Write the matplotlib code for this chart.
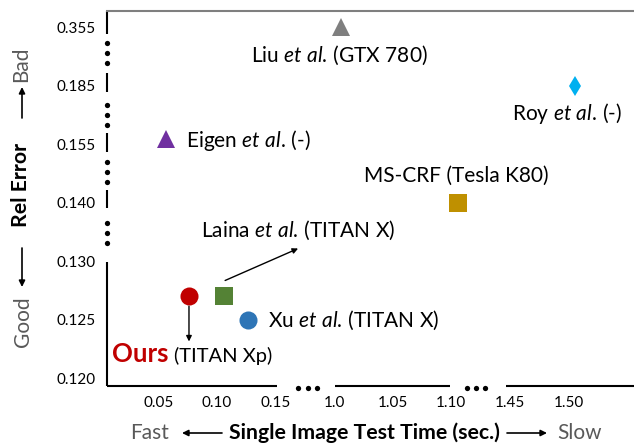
import numpy as np
import matplotlib
matplotlib.use('Agg')
import matplotlib.pyplot as plt
from matplotlib.patches import FancyArrowPatch
from matplotlib.transforms import ScaledTranslation
from matplotlib.text import OffsetFrom

plt.rcParams['font.family'] = ['Lato', 'DejaVu Sans']
plt.rcParams['mathtext.fontset'] = 'custom'
plt.rcParams['mathtext.rm'] = 'Lato'
plt.rcParams['mathtext.it'] = 'Lato:italic'
plt.rcParams['mathtext.bf'] = 'Lato:bold'

# broken axes: every tick is one equal step on screen
x_ticks = [0.05, 0.10, 0.15, 1.0, 1.05, 1.10, 1.45, 1.50]
x_ticklabels = ['0.05', '0.10', '0.15', '1.0', '1.05', '1.10', '1.45', '1.50']
y_ticks = [0.120, 0.125, 0.130, 0.140, 0.155, 0.185, 0.355]
y_ticklabels = ['0.120', '0.125', '0.130', '0.140', '0.155', '0.185', '0.355']

methods = ['Liu', 'Roy', 'Eigen', 'MS-CRF', 'Laina', 'Ours', 'Xu']
times = [1.0, 1.50, 0.05, 1.10, 0.10, 0.07, 0.12]
errors = [0.355, 0.185, 0.158, 0.140, 0.127, 0.127, 0.125]
labels = [r'Liu $\mathit{et\ al.}$' + '\u2009(GTX 780)',
          r'Roy $\mathit{et\ al.}$' + '\u2009(-)',
          r'Eigen $\mathit{et\ al.}$' + '\u2009(-)',
          'MS-CRF (Tesla K80)',
          r'Laina $\mathit{et\ al.}$' + '\u2009(TITAN X)',
          '(TITAN Xp)',
          r'Xu $\mathit{et\ al.}$' + '\u2009(TITAN X)']
colors = ['#7F7F7F', '#00B0F0', '#7030A0', '#BF9000', '#548235', '#C00000', '#2E75B6']
markers = ['^', 'd', '^', 's', 's', 'o', 'o']
msizes = [13, 10.5, 12.5, 13, 13, 13, 13]

# index knots (extra ones at the ends for the axis margins)
xk = np.array([0.0] + x_ticks + [1.55])
xi = np.arange(-1, len(x_ticks) + 1)
yk = np.array([0.115] + y_ticks + [0.525])
yi = np.arange(-1, len(y_ticks) + 1)


def xf(v):
    return np.interp(v, xk, xi)


def xinv(i):
    return np.interp(i, xi, xk)


def yf(v):
    return np.interp(v, yk, yi)


def yinv(i):
    return np.interp(i, yi, yk)


fig = plt.figure(figsize=(6.34, 4.44), dpi=100)
ax = fig.add_axes([107 / 634, 1 - 386 / 444, 1 - 107 / 634, (386 - 11) / 444])
ax.set_xscale('function', functions=(xf, xinv))
ax.set_yscale('function', functions=(yf, yinv))
ax.set_xlim(xinv(-1.0), xinv(8.0))
ax.set_ylim(yinv(-0.13), yinv(6.28))

ax.set_xticks(x_ticks, x_ticklabels)
ax.set_yticks(y_ticks, y_ticklabels)
ax.minorticks_off()
ax.tick_params(length=0, labelsize=11, colors='black')
ax.tick_params(axis='x', pad=7)
ax.tick_params(axis='y', pad=8)
for lbl in ax.get_xticklabels():
    lbl.set_transform(lbl.get_transform() + ScaledTranslation(-0.07, 0, fig.dpi_scale_trans))

for s in ['left', 'bottom', 'right']:
    ax.spines[s].set_visible(False)
ax.spines['top'].set_color('#7F7F7F')
ax.spines['top'].set_linewidth(1.5)

# broken left spine
ytr = ax.get_yaxis_transform()
for lo, hi in [(-0.13, 1.99), (2.91, 3.22), (3.87, 4.20), (4.90, 5.22), (5.89, 6.28)]:
    ax.plot([0, 0], [yinv(lo), yinv(hi)], color='black', lw=1.5, transform=ytr,
            clip_on=False, solid_capstyle='butt')
for mid in [2.49, 3.53, 4.50, 5.56]:
    d = np.array([-0.17, 0, 0.17]) + mid
    ax.plot(np.zeros(3), yinv(d), 'o', color='black', ms=3.8, mew=0, transform=ytr, clip_on=False)

# broken bottom spine
xtr = ax.get_xaxis_transform()
for lo, hi in [(-1, 1.91), (2.90, 4.85), (5.82, 8.0)]:
    ax.plot([xinv(lo), xinv(hi)], [0, 0], color='black', lw=1.5, transform=xtr,
            clip_on=False, solid_capstyle='butt')
for mid in [2.43, 5.30]:
    d = np.array([-0.16, 0, 0.16]) + mid
    ax.plot(xinv(d), np.full(3, -0.004), 'o', color='black', ms=3.8, mew=0, transform=xtr, clip_on=False)

for t, e, c, m, s in zip(times, errors, colors, markers, msizes):
    ax.plot([t], [e], marker=m, ms=s, color=c, mew=0, ls='none', clip_on=False, zorder=3)

# method labels, offsets in pixels from the marker
offsets = {'Liu': (-2, -28, 'center', 'center'),
           'Roy': (-8, -28, 'center', 'center'),
           'Eigen': (20, -2, 'left', 'center'),
           'MS-CRF': (-2, 27, 'center', 'center'),
           'Laina': (74, 66, 'center', 'center'),
           'Ours': (-15, -66, 'left', 'baseline'),
           'Xu': (20, 0, 'left', 'center')}
fs = 15
for name, t, e, lab in zip(methods, times, errors, labels):
    dx, dy, ha, va = offsets[name]
    ax.annotate(lab, xy=(t, e), xytext=(dx, dy), textcoords='offset pixels',
                ha=ha, va=va, fontsize=fs if name != 'Ours' else 14.5, color='black')

i_ours = methods.index('Ours')
ax.annotate('Ours', xy=(times[i_ours], errors[i_ours]), xytext=(-77, -66),
            textcoords='offset pixels', ha='left', va='baseline',
            fontsize=18.5, fontweight='bold', color='#C00000')
ax.annotate('', xy=(times[i_ours], errors[i_ours]), xytext=(0, -45),
            textcoords='offset pixels',
            arrowprops=dict(arrowstyle='<|-', color='black', lw=1.0,
                            shrinkA=0, shrinkB=7, mutation_scale=8))

i_laina = methods.index('Laina')
pt = OffsetFrom(ax.transData, (times[i_laina], errors[i_laina]), unit='pixels')
ax.annotate('', xy=(74, 48), xycoords=pt, xytext=(1, 16), textcoords=pt,
            arrowprops=dict(arrowstyle='-|>', color='black', lw=1.0,
                            shrinkA=0, shrinkB=0, mutation_scale=8))


def px(x, y):
    return (x / 634, 1 - y / 444)


gray = '#595959'
lab_fs = 15
# x axis label
fig.text(*px(150, 439), 'Fast', ha='center', va='baseline', fontsize=lab_fs, color=gray)
fig.text(*px(364, 439), 'Single Image Test Time (sec.)', ha='center', va='baseline',
         fontsize=15.3, fontweight='bold', color='black')
fig.text(*px(580, 439), 'Slow', ha='center', va='baseline', fontsize=lab_fs, color=gray)
arr = dict(arrowstyle='-|>', color='black', lw=1.2, shrinkA=0, shrinkB=0, mutation_scale=9)
fig.add_artist(FancyArrowPatch(px(222, 433), px(182, 433), transform=fig.transFigure, **arr))
fig.add_artist(FancyArrowPatch(px(507, 433), px(547, 433), transform=fig.transFigure, **arr))
# y axis label
fig.text(*px(21, 64), 'Bad', ha='center', va='center', rotation=90, fontsize=lab_fs, color=gray)
fig.text(*px(21, 185), 'Rel Error', ha='center', va='center', rotation=90,
         fontsize=15.3, fontweight='bold', color='black')
fig.text(*px(23, 322), 'Good', ha='center', va='center', rotation=90, fontsize=lab_fs, color=gray)
fig.add_artist(FancyArrowPatch(px(22, 118), px(22, 87), transform=fig.transFigure, **arr))
fig.add_artist(FancyArrowPatch(px(22, 248), px(22, 287), transform=fig.transFigure, **arr))

fig.savefig('out.png', dpi=100)
plt.close()
